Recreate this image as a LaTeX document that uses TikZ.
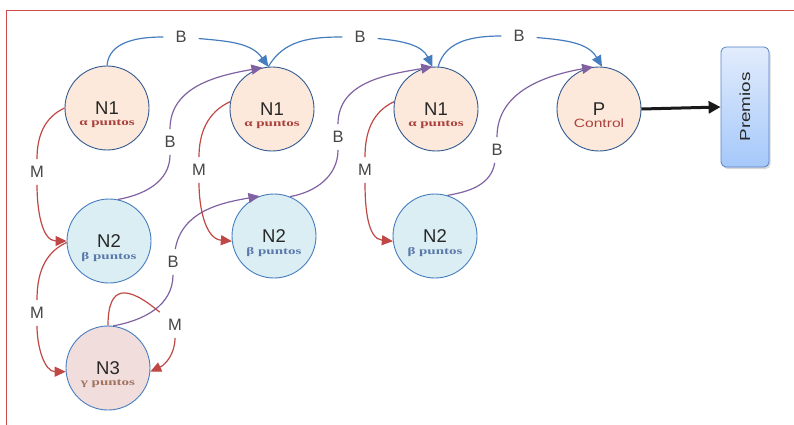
\documentclass[tikz,border=0pt]{standalone}
\usepackage{fontspec}
\setmainfont{Liberation Sans}
\newfontfamily\subfont[FakeStretch=1.5]{Liberation Serif}
\newfontfamily\widefont[FakeStretch=1.3]{Liberation Sans}
\usepackage{graphicx}
\usetikzlibrary{arrows.meta,shadows}
\definecolor{framered}{RGB}{205,75,75}
\definecolor{peach}{RGB}{252,233,219}
\definecolor{paleblue}{RGB}{219,238,244}
\definecolor{palerose}{RGB}{242,221,221}
\definecolor{navy}{RGB}{50,90,145}
\definecolor{midblue}{RGB}{70,125,192}
\definecolor{txtgray}{RGB}{40,40,40}
\definecolor{lblgray}{RGB}{70,70,70}
\definecolor{bluel}{RGB}{70,125,190}
\definecolor{purp}{RGB}{128,98,162}
\definecolor{redl}{RGB}{192,72,68}
\definecolor{ptsred}{RGB}{170,65,60}
\definecolor{ptsblue}{RGB}{90,120,170}
\definecolor{ptsbrown}{RGB}{160,115,95}
\definecolor{boxtop}{RGB}{226,236,252}
\definecolor{boxbot}{RGB}{165,200,250}
\definecolor{boxline}{RGB}{85,130,200}
\begin{document}
\begin{tikzpicture}[x=1pt,y=1pt,
    circ/.style={circle,minimum size=84pt,inner sep=0pt,line width=0.9pt,text=txtgray,font=\fontsize{18.5}{18.5}\selectfont},
    lvone/.style={circ,draw=navy,fill=peach},
    lvtwo/.style={circ,draw=midblue,fill=paleblue},
    lvthree/.style={circ,draw=midblue,fill=palerose},
    pts/.style={inner sep=0pt,font=\subfont\bfseries\fontsize{10}{10}\selectfont},
    lbl/.style={inner xsep=12pt,inner ysep=7pt,text=lblgray,font=\fontsize{16.5}{16.5}\selectfont},
    conn/.style={line width=1.2pt,-{Triangle[length=11pt,width=10pt]}},
    bconn/.style={conn,draw=bluel},
    pconn/.style={conn,draw=purp},
    rconn/.style={conn,draw=redl},
    prize/.style={draw=boxline,line width=0.8pt,rounded corners=5pt,top color=boxtop,bottom color=boxbot,
        minimum width=48pt,minimum height=120pt,inner sep=0pt,text=txtgray,
        drop shadow={shadow xshift=1.5pt,shadow yshift=-2pt,opacity=0.3}},
]
    \useasboundingbox (0,0) rectangle (794,-425);
    \draw [framered, line width=1pt] (6,-425) -- (6,-11) -- (794,-11);

    % levels
    \node [lvone] (n1a) at (107,-108) {N1};
    \node [pts, text=ptsred] (sa) at ([yshift=-16pt]n1a.center) {α puntos};
    \node [lvone] (n1b) at (272,-109) {N1};
    \node [pts, text=ptsred] (sb) at ([yshift=-16pt]n1b.center) {α puntos};
    \node [lvone] (n1c) at (436,-109) {N1};
    \node [pts, text=ptsred] (sc) at ([yshift=-16pt]n1c.center) {α puntos};
    \node [lvone] (p) at (599,-109) {P};
    \node [inner sep=0pt, text=ptsred, font=\widefont\fontsize{12}{12}\selectfont] (ctl) at ([yshift=-14pt]p.center) {Control};
    \node [lvtwo] (n2a) at (109,-241) {N2};
    \node [pts, text=ptsblue] (sd) at ([yshift=-16pt]n2a.center) {β puntos};
    \node [lvtwo] (n2b) at (274,-236) {N2};
    \node [pts, text=ptsblue] (se) at ([yshift=-16pt]n2b.center) {β puntos};
    \node [lvtwo] (n2c) at (435,-236) {N2};
    \node [pts, text=ptsblue] (sf) at ([yshift=-16pt]n2c.center) {β puntos};
    \node [lvthree] (n3) at (108,-368) {N3};
    \node [pts, text=ptsbrown] (sg) at ([yshift=-16pt]n3.center) {γ puntos};
    \node [prize] (prem) at (745,-107) {\rotatebox{90}{\widefont\fontsize{14.5}{14.5}\selectfont Premios}};

    % labels
    \node [lbl] (b1) at (181,-37) {B};
    \node [lbl] (b2) at (360,-37) {B};
    \node [lbl] (b3) at (519,-36) {B};
    \node [lbl] (bp1) at (170,-142) {B};
    \node [lbl] (bp2) at (338,-137) {B};
    \node [lbl] (bp3) at (497,-150) {B};
    \node [lbl] (bp4) at (173,-262) {B};
    \node [lbl] (m1) at (37,-172) {M};
    \node [lbl] (m2) at (199,-170) {M};
    \node [lbl] (m3) at (365,-170) {M};
    \node [lbl] (m4) at (37,-313) {M};
    \node [lbl] (m5) at (175,-325) {M};

    % B along the top
    \draw [bconn] (n1a.90) to[out=85, in=180] (b1) to[out=-5, in=125] (n1b.95);
    \draw [bconn] (n1b.95) to[out=60, in=180] (b2) to[out=-5, in=115] (n1c.95);
    \draw [bconn] (n1c.87) to[out=75, in=180] (b3) to[out=-5, in=120] (p.86);

    % B upwards
    \draw [pconn] (n2a.78) to[out=10, in=-90] (bp1) to[out=90, in=190] (n1b.103);
    \draw [pconn] (n2b.68) to[out=10, in=-90] (bp2) to[out=90, in=190] (n1c.95);
    \draw [pconn] (n2c.73) to[out=10, in=-100] (bp3) to[out=90, in=190] (p.98);
    \draw [pconn] (n3.83) to[out=10, in=-90] (bp4) to[out=80, in=190] (n2b.110);

    % M downwards
    \draw [rconn] (n1a.180) to[out=205, in=90] (m1) to[out=-90, in=180] (n2a.180);
    \draw [rconn] (n1b.170) to[out=205, in=90] (m2) to[out=-90, in=175] (n2b.187);
    \draw [rconn] (n1c.170) to[out=205, in=90] (m3) to[out=-90, in=175] (n2c.187);
    \draw [rconn] (n2a.182) to[out=205, in=90] (m4) to[out=-90, in=180] (n3.185);
    \draw [rconn] (n3.90) to[out=90, in=140, looseness=2] (m5) to[out=-90, in=25] (n3.-5);

    \draw [line width=3pt, black!90, -{Triangle[length=12pt,width=12pt]}] (p.east) -- (prem.west);
\end{tikzpicture}
\end{document}
